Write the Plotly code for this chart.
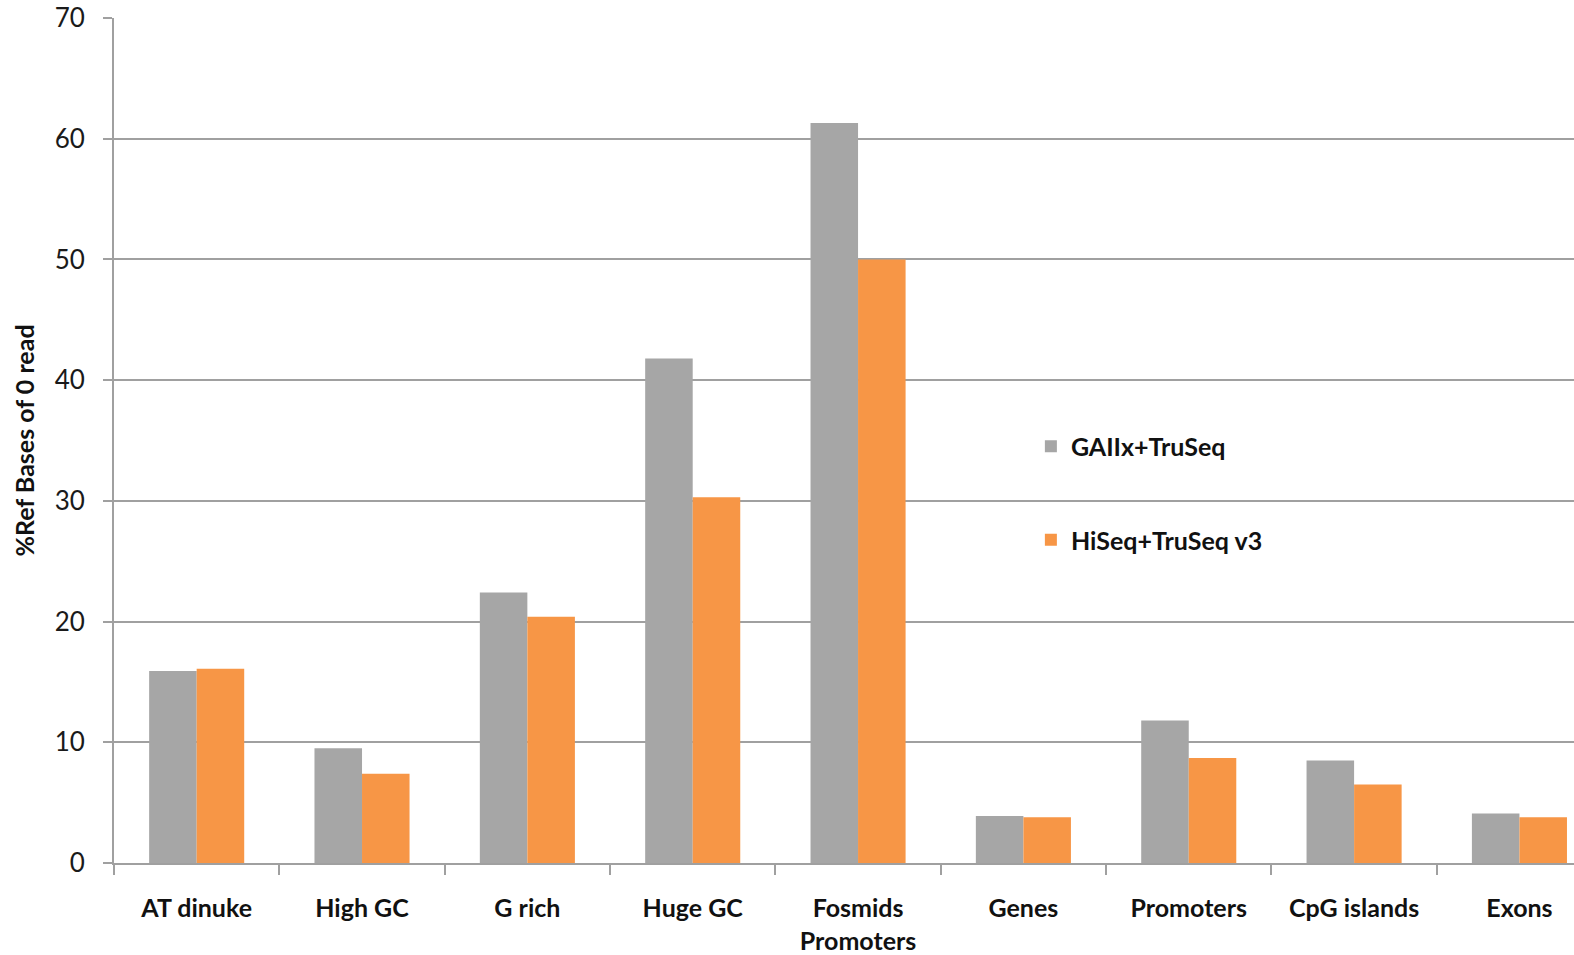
import plotly.graph_objects as go

categories = ["AT dinuke", "High GC", "G rich", "Huge GC", "Fosmids<br>Promoters",
              "Genes", "Promoters", "CpG islands", "Exons"]
gaiix_truseq = [15.9, 9.5, 22.4, 41.8, 61.3, 3.9, 11.8, 8.5, 4.1]
hiseq_truseq_v3 = [16.1, 7.4, 20.4, 30.3, 50.0, 3.8, 8.7, 6.5, 3.8]
y_ticks = [0, 10, 20, 30, 40, 50, 60, 70]

GRAY = "#a6a6a6"
ORANGE = "#f79646"
LINE = "#a0a0a0"
FONT = "Lato, 'Open Sans', sans-serif"

fig = go.Figure()
fig.add_trace(go.Bar(x=categories, y=gaiix_truseq, name="GAIIx+TruSeq",
                     marker=dict(color=GRAY, line=dict(width=0)),
                     legendgroup="a"))
fig.add_trace(go.Bar(x=categories, y=hiseq_truseq_v3, name="HiSeq+TruSeq v3",
                     marker=dict(color=ORANGE, line=dict(width=0)),
                     legendgroup="b"))

fig.update_layout(
    width=1574, height=955,
    margin=dict(l=114, r=0, t=18, b=90),
    paper_bgcolor="white", plot_bgcolor="white",
    barmode="group", bargap=0.425, bargroupgap=0,
    font=dict(family=FONT, color="#111111", size=25),
    legend=dict(x=0.628, y=0.52, xanchor="left", yanchor="top",
                bgcolor="rgba(0,0,0,0)", tracegroupgap=58,
                traceorder="grouped", itemwidth=30,
                font=dict(family=FONT, size=25, weight="bold", color="#111111")),
    xaxis=dict(
        type="category", range=[-0.5, 8.33],
        showline=True, linecolor=LINE, linewidth=2,
        ticks="outside", ticklen=10, tickcolor=LINE, tickwidth=2,
        tickson="boundaries", showgrid=False,
        tickfont=dict(family=FONT, size=25, weight="bold", color="#111111"),
        ticklabelstandoff=22,
    ),
    yaxis=dict(
        range=[0, 70], tickmode="array", tickvals=y_ticks,
        showgrid=True, gridcolor=LINE, gridwidth=1.5,
        showline=True, linecolor=LINE, linewidth=2,
        ticks="outside", ticklen=9, tickcolor=LINE, tickwidth=1.5,
        tickfont=dict(family=FONT, size=26, color="#1a1a1a"),
        ticklabelstandoff=13,
        zeroline=False,
        title=dict(text="%Ref Bases of 0 read", standoff=13,
                   font=dict(family=FONT, size=25, weight="bold", color="#111111")),
    ),
)

fig.write_html("out.html")
